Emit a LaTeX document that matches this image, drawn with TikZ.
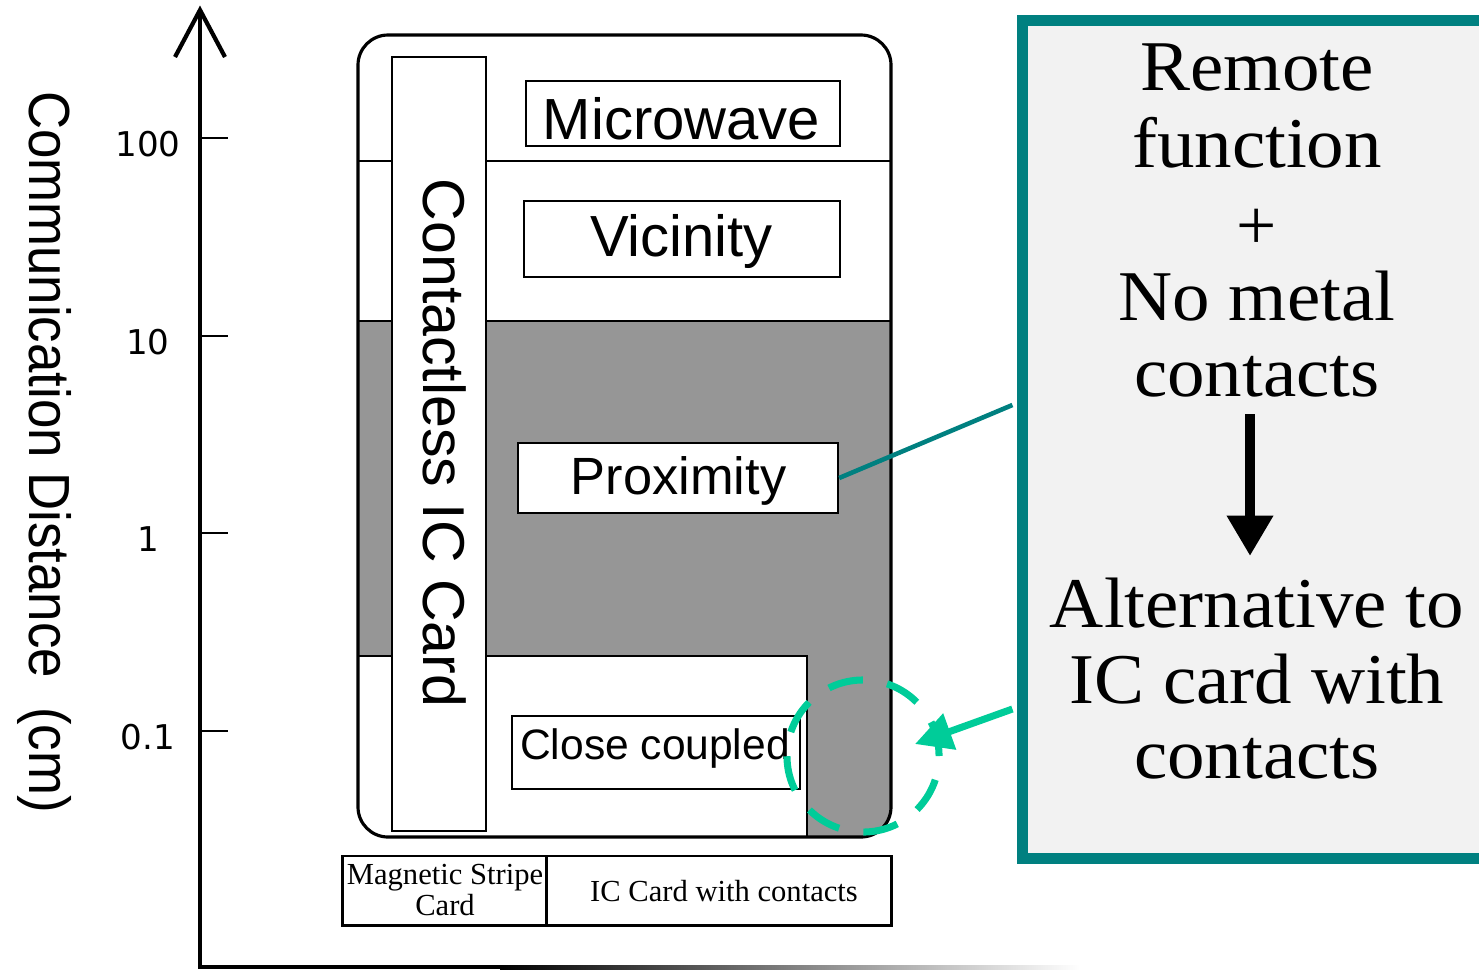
\documentclass[tikz,border=0pt]{standalone}
\usepackage{fontspec}
\setmainfont{Liberation Serif}
\setsansfont{Liberation Sans}
\newfontfamily\dejavu{DejaVu Sans}
\usetikzlibrary{arrows.meta,calc}
\definecolor{cardgray}{RGB}{150,150,150}
\definecolor{tealc}{RGB}{0,128,128}
\definecolor{aquac}{RGB}{0,204,153}
\definecolor{panelc}{RGB}{242,242,242}
\newcommand{\wideserif}[1]{\scalebox{1.05}[1]{#1}}
\tikzset{
  boxstyle/.style={draw, fill=white, line width=0.6pt, inner sep=0pt},
  botbox/.style={draw, fill=white, line width=0.85pt, inner sep=0pt},
  sanslab/.style={font=\sffamily\fontsize{#1}{#1}\selectfont, inner sep=0pt},
  paneltext/.style={font=\fontsize{20.3}{22}\selectfont, inner sep=0pt, anchor=base},
  ticklab/.style={font=\dejavu\fontsize{9.7}{10}\selectfont, inner sep=0pt},
}
\begin{document}
\begin{tikzpicture}[x=0.01cm,y=-0.01cm]
\useasboundingbox (0,0) rectangle (1479,969);

% axis
\draw[line width=1.2pt] (200,967) -- (200,12);
\draw[line width=1.2pt, line join=miter] (175,57) -- (200,10) -- (225,57);
\fill[black] (198,965) rectangle (500,969);
\shade[left color=black, right color=white] (500,965) rectangle (1080,969);
\foreach \yy/\ll/\nn in {138/100/1, 336/10/2, 533/1/3, 731/0.1/4} {
  \draw[line width=0.6pt] (200,\yy) -- (228,\yy);
  \node[ticklab] (tick\nn) at (148,\yy+6) {\ll};
}
\node[rotate=-90, font=\sffamily\fontsize{16.5}{18}\selectfont, inner sep=0pt] (ylab) at (45,452)
  {\scalebox{0.91}[1]{Communication Distance\ \ (cm)}};

% card
\begin{scope}
  \clip[rounded corners=0.3cm] (358,35) rectangle (891,837);
  \fill[cardgray] (358,321) -- (891,321) -- (891,837) -- (807,837) -- (807,656) -- (358,656) -- cycle;
\end{scope}
\draw[line width=0.7pt] (358,161) -- (891,161);
\draw[line width=0.7pt] (358,321) -- (891,321);
\draw[line width=0.7pt] (358,656) -- (807,656) -- (807,837);
\draw[line width=0.9pt, rounded corners=0.3cm] (358,35) rectangle (891,837);

\node[boxstyle, minimum width=0.94cm, minimum height=7.74cm] (strip) at (439,444) {};
\node[rotate=-90, sanslab=16.8] (ctl) at (445,443) {Contactless IC Card};

\node[boxstyle, minimum width=3.13cm, minimum height=0.65cm] (mwbox) at (683,113.5) {};
\node[sanslab=16.5] (mw) at (681.5,119) {Microwave};
\node[boxstyle, minimum width=3.16cm, minimum height=0.755cm] (vibox) at (682,238.8) {};
\node[sanslab=16.5] (vi) at (681.5,241) {Vicinity};
\node[boxstyle, minimum width=3.2cm, minimum height=0.7cm] (prbox) at (678,478) {};
\node[sanslab=14.9] (pr) at (678.5,481) {Proximity};
\node[boxstyle, minimum width=2.88cm, minimum height=0.73cm] (ccbox) at (656,752.5) {};
\node[sanslab=12.1] (cc) at (655,748) {Close coupled};

% bottom labels
\node[botbox, minimum width=2.04cm, minimum height=0.69cm] (magbox) at (445,890.5) {};
\node[font=\fontsize{8.7}{8.9}\selectfont, align=center, inner sep=0pt] (mag) at (445,890) {Magnetic Stripe\\Card};
\node[botbox, minimum width=3.44cm, minimum height=0.69cm] (icbox) at (719,890.5) {};
\node[font=\fontsize{8.7}{8.9}\selectfont, inner sep=0pt] (ic) at (724,891) {IC Card with contacts};

% right panel
\node[draw=tealc, fill=panelc, line width=3.1pt, minimum width=4.72cm, minimum height=8.37cm, inner sep=0pt] (panel) at (1259,439.5) {};
\node[paneltext] (r1) at (1257,90) {\wideserif{Remote}};
\node[paneltext] (r2) at (1257,167) {\wideserif{function}};
\node[paneltext] (r3) at (1257,249) {+};
\node[paneltext] (r4) at (1257,320) {\wideserif{No metal}};
\node[paneltext] (r5) at (1257,396) {\wideserif{contacts}};
\node[paneltext] (r6) at (1257,627) {\wideserif{Alternative to}};
\node[paneltext] (r7) at (1257,703) {\wideserif{IC card with}};
\node[paneltext] (r8) at (1257,778) {\wideserif{contacts}};
\coordinate (arT) at (1250,414);
\coordinate (arB) at (1250,556);
\draw[line width=3.1pt, -{Triangle[width=12.5pt,length=11.5pt]}] (arT) -- (arB);

% connectors
\draw[tealc, line width=1.3pt] (prbox.east) -- ($(panel.west)+(-5,-34.5)$);
\draw[aquac, line width=2pt, dash pattern=on 10pt off 7pt] (863,756) circle[radius=0.76cm];
\coordinate (tipc) at (915,744);
\draw[aquac, line width=2pt, -{Triangle[width=10.5pt,length=10.5pt]}] ($(panel.west)+(-5,269.5)$) -- (tipc);
\end{tikzpicture}
\end{document}
